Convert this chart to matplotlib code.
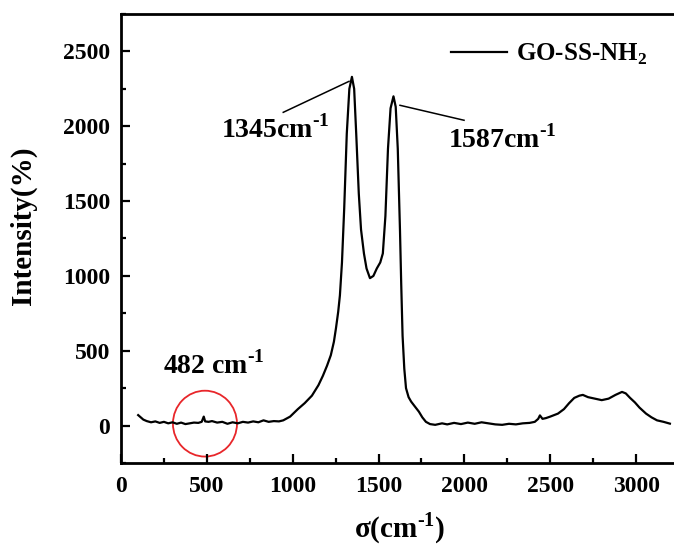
import matplotlib
matplotlib.use("Agg")
import matplotlib.pyplot as plt
from matplotlib.patches import Ellipse
from matplotlib.ticker import MultipleLocator
import numpy as np

plt.rcParams['font.family'] = 'Liberation Serif'
plt.rcParams['font.weight'] = 'bold'
plt.rcParams['mathtext.fontset'] = 'custom'
plt.rcParams['mathtext.rm'] = 'Liberation Serif:bold'
plt.rcParams['mathtext.bf'] = 'Liberation Serif:bold'

# Raman shift (cm-1) and intensity
shift = [100, 115, 130, 150, 175, 200, 225, 250, 275, 300, 325, 350, 375, 400, 425,
         450, 470, 482, 490, 510, 530, 560, 590, 620, 650, 680, 710, 740, 770, 800,
         830, 860, 890, 920, 945, 985, 1030, 1070, 1112, 1150, 1176, 1200, 1222, 1240,
         1252, 1265, 1275, 1287, 1300, 1315, 1330, 1345, 1358, 1370, 1385, 1398, 1415,
         1430, 1450, 1470, 1490, 1510, 1525, 1540, 1555, 1570, 1587, 1600, 1612, 1625,
         1632, 1640, 1650, 1660, 1675, 1690, 1710, 1735, 1755, 1776, 1800, 1830, 1870,
         1900, 1940, 1980, 2020, 2060, 2100, 2140, 2180, 2220, 2260, 2300, 2340, 2380,
         2410, 2430, 2440, 2455, 2475, 2500, 2545, 2580, 2610, 2640, 2670, 2690, 2720,
         2760, 2800, 2840, 2880, 2918, 2940, 2965, 2993, 3020, 3058, 3090, 3122, 3160, 3197]
intensity = [70, 55, 40, 30, 22, 28, 18, 25, 15, 22, 12, 20, 10, 15, 20,
             18, 25, 60, 28, 25, 30, 20, 25, 12, 22, 15, 25, 20, 28, 22,
             35, 25, 30, 28, 35, 60, 110, 150, 200, 270, 333, 400, 470, 560,
             650, 760, 870, 1090, 1450, 1950, 2250, 2330, 2250, 1950, 1550, 1310, 1150,
             1050, 985, 1000, 1050, 1090, 1150, 1400, 1850, 2120, 2200, 2130, 1850, 1300,
             950, 600, 380, 250, 190, 160, 130, 93, 55, 25, 10, 5, 15,
             8, 18, 10, 20, 12, 22, 15, 8, 5, 12, 8, 15, 18,
             25, 45, 68, 45, 50, 60, 80, 110, 150, 185, 200, 205, 190,
             180, 170, 180, 205, 225, 215, 185, 155, 120, 80, 55, 35, 25, 13]

peak_labels = [r'1345cm$^{\text{-1}}$', r'1587cm$^{\text{-1}}$', r'482 cm$^{\text{-1}}$']
label_pos = [(897, 1980), (2219, 1913), (542, 400)]
leader_lines = [((945, 2093), (1328, 2300)), ((1625, 2140), (1998, 2040))]

fig = plt.figure(figsize=(6.74, 5.52), dpi=100)
ax = fig.add_axes([121/674, 1 - 463/552, 558/674, 449/552])

ax.plot(shift, intensity, color='black', lw=1.6, label='GO-SS-NH$_2$')

for (p0, p1) in leader_lines:
    ax.plot([p0[0], p1[0]], [p0[1], p1[1]], color='black', lw=1.1)
for txt, (tx, ty) in zip(peak_labels, label_pos):
    ax.text(tx, ty, txt, fontsize=20, fontweight='bold', ha='center', va='center')

ax.add_patch(Ellipse((489, 13), 373, 440, fill=False, edgecolor='#e8262a', lw=1.3))

ax.set_xlim(0, 3250)
ax.set_ylim(-250, 2750)
ax.xaxis.set_major_locator(MultipleLocator(500))
ax.xaxis.set_minor_locator(MultipleLocator(250))
ax.yaxis.set_major_locator(MultipleLocator(500))
ax.yaxis.set_minor_locator(MultipleLocator(250))
ax.tick_params(which='both', direction='in', width=1.6, labelsize=17)
ax.tick_params(which='major', length=6.5)
ax.tick_params(which='minor', length=3.5)
ax.tick_params(axis='x', pad=9)
ax.tick_params(axis='y', pad=8)
for lab in ax.get_xticklabels() + ax.get_yticklabels():
    lab.set_fontweight('bold')
for s in ['left', 'bottom', 'top']:
    ax.spines[s].set_linewidth(2)
ax.spines['right'].set_visible(False)

ax.set_xlabel(r'σ(cm$^{\text{-1}}$)', fontsize=21, fontweight='bold')
ax.set_ylabel('Intensity(%)', fontsize=21, fontweight='bold')
ax.xaxis.set_label_coords((400 - 121) / 558, -0.105)
ax.yaxis.set_label_coords(-0.151, 0.528)

ax.legend(loc='upper right', bbox_to_anchor=(0.965, 0.967), frameon=False,
          fontsize=18, handlelength=2.25, handletextpad=0.36, borderpad=0)

fig.savefig('out.png', dpi=100)
